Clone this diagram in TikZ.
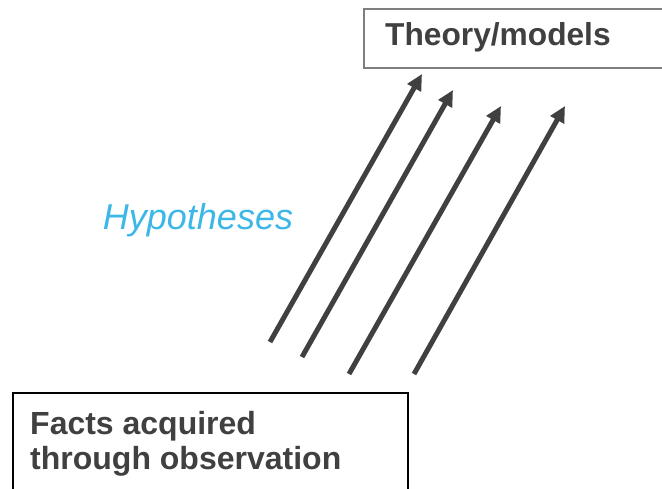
\documentclass[tikz,border=0pt]{standalone}
\usepackage{fontspec}
\setmainfont{Liberation Sans}
\usetikzlibrary{arrows.meta}
\definecolor{txtgray}{HTML}{404040}
\definecolor{arrgray}{HTML}{404040}
\definecolor{hypblue}{HTML}{3DB7E8}
\definecolor{boxgray}{HTML}{7F7F7F}
\tikzset{
  boxtext/.style={inner sep=0pt, text=txtgray, font=\fontsize{32}{35}\selectfont\bfseries, align=left},
  uparrow/.style={draw=arrgray, line width=5pt, -{Triangle[length=16pt,width=15pt]}},
}
\begin{document}
\begin{tikzpicture}[x=1pt,y=-1pt]
\useasboundingbox (0,0) rectangle (662,489);
% boxes
\draw[boxgray, line width=1.3pt] (364,9) rectangle (668,68);
\draw[black, line width=1.8pt] (13,393) rectangle (408,500);
\node[boxtext, font=\fontsize{31.7}{35}\selectfont\bfseries, anchor=base west] (theory) at (385,46) {Theory/models};
\node[boxtext, anchor=north west] (facts) at (30,411.5) {Facts acquired\\through observation};
\node[inner sep=0pt, anchor=base, text=hypblue, font=\fontsize{36}{40}\selectfont\itshape] (hyp) at (198,230) {Hypotheses};
% arrows
\coordinate (t1) at (270,342); \coordinate (h1) at (422,74);
\coordinate (t2) at (302,357); \coordinate (h2) at (453,90);
\coordinate (t3) at (349,374); \coordinate (h3) at (501,106);
\coordinate (t4) at (414,374); \coordinate (h4) at (565,106);
\draw[uparrow] (t1) -- (h1);
\draw[uparrow] (t2) -- (h2);
\draw[uparrow] (t3) -- (h3);
\draw[uparrow] (t4) -- (h4);
\end{tikzpicture}
\end{document}
